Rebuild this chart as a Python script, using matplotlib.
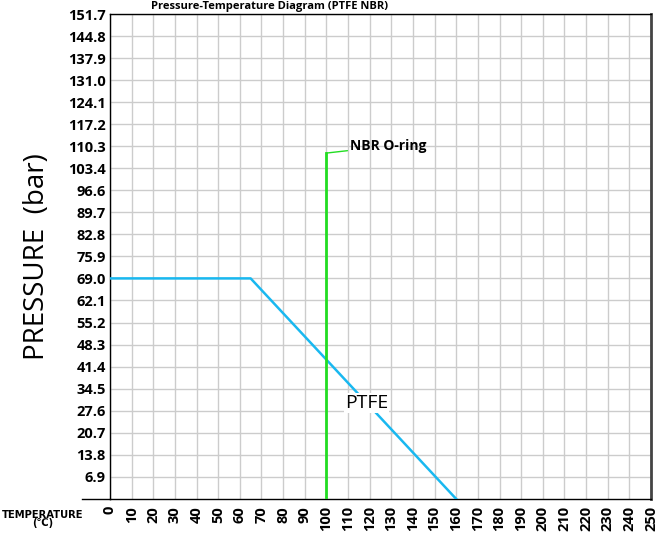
import numpy as np
import matplotlib
matplotlib.use("Agg")
import matplotlib.pyplot as plt
from matplotlib.lines import Line2D

plt.rcParams['font.family'] = ['Open Sans', 'DejaVu Sans']

# data
ptfe_temp = [0, 65, 160]
ptfe_press = [69.0, 69.0, 0.0]
nbr_temp = [100, 100]
nbr_press = [0.0, 108.2]
ytick_vals = [6.9, 13.8, 20.7, 27.6, 34.5, 41.4, 48.3, 55.2, 62.1, 69.0, 75.9,
              82.8, 89.7, 96.6, 103.4, 110.3, 117.2, 124.1, 131.0, 137.9, 144.8, 151.7]
xtick_vals = list(range(0, 260, 10))

fig = plt.figure(figsize=(6.57, 5.39), dpi=100)
ax = fig.add_axes([110/657, 40/539, 541/657, 485/539])

ax.set_xlim(0, 250)
ax.set_ylim(0, 151.7)
ax.set_xticks(xtick_vals)
ax.set_yticks(ytick_vals)
ax.set_yticklabels(["%.1f" % v for v in ytick_vals], fontsize=10.5, fontweight='bold')
ax.set_xticklabels([str(v) for v in xtick_vals], fontsize=10.5, fontweight='bold', rotation=90)
ax.tick_params(length=0, pad=3)
ax.tick_params(axis='x', pad=5)
ax.grid(True, color='#cccccc', linewidth=1)
ax.set_axisbelow(True)
for s in ['left', 'bottom', 'top']:
    ax.spines[s].set_color('black')
    ax.spines[s].set_linewidth(1)
ax.spines['right'].set_color('#444444')
ax.spines['right'].set_linewidth(2)

ax.plot(ptfe_temp, ptfe_press, color='#19b8f0', linewidth=1.8, zorder=3)
ax.plot(nbr_temp, nbr_press, color='#22dd22', linewidth=2, zorder=4)

# NBR label with leader
ax.annotate('NBR O-ring', xy=(nbr_temp[1], nbr_press[1]), xytext=(111, 110.4),
            fontsize=10, fontweight='bold', va='center', ha='left',
            arrowprops=dict(arrowstyle='-', color='#22dd22', lw=1, shrinkA=0, shrinkB=0))

ax.text(108.5, 30, 'PTFE', fontsize=14, va='center', ha='left',
        bbox=dict(facecolor='white', edgecolor='none', pad=0.5), zorder=5)

ax.set_ylabel('PRESSURE  (bar)', fontsize=20, fontweight='normal', labelpad=12)

# extend bottom axis line to the left
fig.add_artist(Line2D([82/657, 110/657], [40/539, 40/539], color='black', linewidth=1))
fig.text(43/657, 20/539, 'TEMPERATURE\n(℃)', fontsize=8, fontweight='bold',
         family='DejaVu Sans', fontstretch='condensed',
         ha='center', va='center', linespacing=0.8)

fig.text(270/657, 1 - 6/539, 'Pressure-Temperature Diagram (PTFE NBR)', fontsize=8,
         fontweight='bold', ha='center', va='center')

fig.savefig('out.png', dpi=100)
